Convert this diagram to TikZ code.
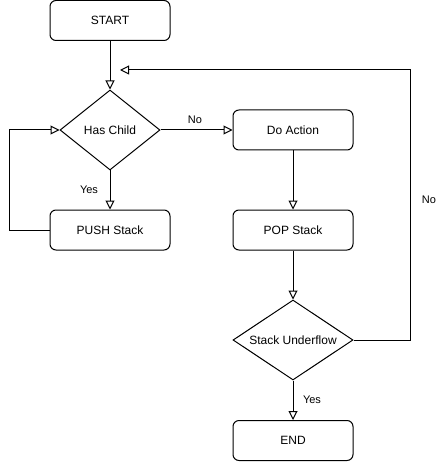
\documentclass[tikz,border=0pt]{standalone}
\usepackage{fontspec}
\setmainfont{Liberation Sans}
\usetikzlibrary{shapes.geometric,arrows.meta}
\begin{document}
\begin{tikzpicture}[x=1pt,y=-1pt,line width=1pt,
  proc/.style={draw,rounded corners=6pt,minimum width=120pt,minimum height=40pt,inner sep=0pt,font=\fontsize{12}{14}\selectfont},
  dec/.style={draw,diamond,inner sep=0pt,shape aspect=1.5,font=\fontsize{12}{14}\selectfont},
  arr/.style={-{Triangle[open,length=9pt,width=9pt]}},
  lbl/.style={font=\fontsize{11}{13}\selectfont,inner sep=0pt}]
\useasboundingbox (0,0) rectangle (437,462);
\node[proc] (start) at (110,20.5) {START};
\node[dec,minimum width=100pt,minimum height=80pt] (has) at (110,130) {Has Child};
\node[proc] (push) at (110,230) {PUSH Stack};
\node[proc] (act) at (293,130) {Do Action};
\node[proc] (pop) at (293,230) {POP Stack};
\node[dec,minimum width=120pt,minimum height=80pt] (und) at (293,340) {Stack Underflow};
\node[proc] (end) at (293,440.5) {END};
\coordinate (back) at (120,70);
\draw[arr] (start.south) -- (has.north);
\draw[arr] (has.south) -- (push.north);
\node[lbl] (yes1) at (89,190) {Yes};
\draw[arr] (push.west) -- ++(-40,0) |- (has.west);
\draw[arr] (has.east) -- (act.west);
\node[lbl] (no1) at (195,120) {No};
\draw[arr] (act.south) -- (pop.north);
\draw[arr] (pop.south) -- (und.north);
\draw[arr] (und.east) -- (410,340) |- (back);
\node[lbl] (no2) at (429,200) {No};
\draw[arr] (und.south) -- (end.north);
\node[lbl] (yes2) at (312,400) {Yes};
\end{tikzpicture}
\end{document}
